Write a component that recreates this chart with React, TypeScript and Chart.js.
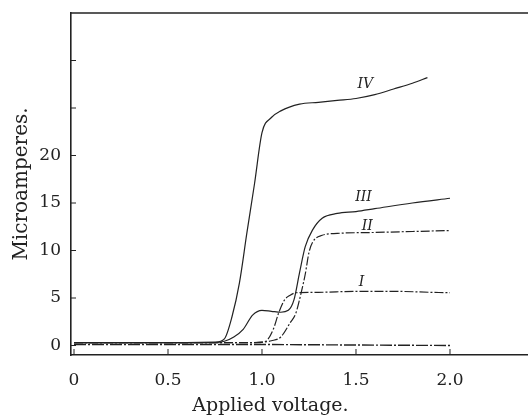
import React, { useEffect, useRef } from "react";
import { Chart, registerables } from "chart.js";

Chart.register(...registerables);

// Applied voltage (x) and microamperes (y) for each curve
const curveIVVolts = [0, 0.3, 0.6, 0.75, 0.8, 0.84, 0.88, 0.92, 0.96, 1.0, 1.05, 1.1, 1.2, 1.3, 1.4, 1.5, 1.6, 1.7, 1.8, 1.88];
const curveIVAmps = [0.3, 0.3, 0.3, 0.35, 0.7, 3.0, 6.6, 11.9, 17.0, 22.4, 24.0, 24.7, 25.4, 25.6, 25.8, 26.0, 26.4, 27.0, 27.6, 28.2];

const curveIIIVolts = [0, 0.4, 0.75, 0.8, 0.85, 0.9, 0.95, 1.0, 1.05, 1.1, 1.14, 1.17, 1.2, 1.23, 1.27, 1.32, 1.4, 1.5, 1.6, 1.8, 2.0];
const curveIIIAmps = [0.3, 0.3, 0.3, 0.45, 0.9, 1.7, 3.2, 3.7, 3.6, 3.5, 3.7, 4.8, 7.7, 10.4, 12.2, 13.4, 13.9, 14.1, 14.4, 15.0, 15.5];

const curveIIVolts = [0, 0.5, 0.95, 1.0, 1.05, 1.1, 1.15, 1.18, 1.21, 1.23, 1.25, 1.27, 1.32, 1.4, 1.6, 1.8, 2.0];
const curveIIAmps = [0.3, 0.3, 0.3, 0.35, 0.5, 0.9, 2.4, 3.4, 5.7, 7.5, 9.8, 10.9, 11.6, 11.8, 11.9, 12.0, 12.1];

const curveIVolts = [0, 0.5, 0.97, 1.02, 1.06, 1.09, 1.12, 1.15, 1.18, 1.3, 1.5, 1.7, 1.9, 2.0];
const curveIAmps = [0.3, 0.3, 0.3, 0.45, 1.7, 3.5, 4.8, 5.3, 5.55, 5.6, 5.7, 5.7, 5.6, 5.55];

const baseVolts = [0, 0.5, 1.0, 1.5, 2.0];
const baseAmps = [0.1, 0.1, 0.1, 0.05, 0.0];

const xTickValues = [0, 0.5, 1.0, 1.5, 2.0];
const yTickValues = [0, 5, 10, 15, 20, 25, 30];
const yLabelledMax = 20;

const curveNames = ["IV", "III", "II", "I"];
const curveNameVolts = [1.55, 1.54, 1.56, 1.53];
const curveNameAmps = [27.5, 15.6, 12.5, 6.6];

const xTitleText = "Applied voltage.";
const xTitleCentreVolts = 1.045;

const INK = "#222222";
const FONT = '"DejaVu Serif", "Liberation Serif", serif';

function toPoints(xs: number[], ys: number[]) {
  return xs.map((x, i) => ({ x, y: ys[i] }));
}

const framePlugin = {
  id: "frameAndNames",
  afterDraw(chart: any) {
    const { ctx, chartArea, scales, height } = chart;
    const xs = scales.x;
    const ys = scales.y;
    ctx.save();
    ctx.strokeStyle = INK;
    ctx.lineWidth = 1;
    ctx.beginPath();
    xTickValues.forEach((v) => {
      const px = xs.getPixelForValue(v);
      ctx.moveTo(px, chartArea.bottom);
      ctx.lineTo(px, chartArea.bottom - 6);
    });
    yTickValues.forEach((v) => {
      const py = ys.getPixelForValue(v);
      ctx.moveTo(chartArea.left, py);
      ctx.lineTo(chartArea.left + 5, py);
    });
    ctx.stroke();
    ctx.lineWidth = 1.6;
    ctx.beginPath();
    ctx.moveTo(chartArea.left, chartArea.top);
    ctx.lineTo(chartArea.right, chartArea.top);
    ctx.stroke();
    ctx.fillStyle = INK;
    ctx.font = `italic 14px ${FONT}`;
    ctx.textAlign = "center";
    ctx.textBaseline = "middle";
    curveNames.forEach((name, i) => {
      ctx.fillText(name, xs.getPixelForValue(curveNameVolts[i]), ys.getPixelForValue(curveNameAmps[i]));
    });
    ctx.font = `19px ${FONT}`;
    ctx.textBaseline = "alphabetic";
    ctx.fillText(xTitleText, xs.getPixelForValue(xTitleCentreVolts), height - 6);
    ctx.restore();
  },
};

export default function App() {
  const canvasRef = useRef<HTMLCanvasElement | null>(null);

  useEffect(() => {
    document.body.style.margin = "0";
    const canvas = canvasRef.current;
    if (!canvas) return;

    const lineStyle = (dash: number[], width = 1.2) => ({
      borderColor: INK,
      borderWidth: width,
      borderDash: dash,
      pointRadius: 0,
      fill: false,
      cubicInterpolationMode: "monotone" as const,
    });

    const chart = new Chart(canvas, {
      type: "line",
      data: {
        datasets: [
          { label: "IV", data: toPoints(curveIVVolts, curveIVAmps), ...lineStyle([]) },
          { label: "III", data: toPoints(curveIIIVolts, curveIIIAmps), ...lineStyle([]) },
          { label: "II", data: toPoints(curveIIVolts, curveIIAmps), ...lineStyle([9, 2, 2, 2]) },
          { label: "I", data: toPoints(curveIVolts, curveIAmps), ...lineStyle([9, 2, 2, 2]) },
          { label: "base", data: toPoints(baseVolts, baseAmps), ...lineStyle([12, 2, 2, 2], 1.4) },
        ],
      },
      plugins: [framePlugin],
      options: {
        animation: false,
        responsive: false,
        devicePixelRatio: 1,
        layout: { padding: { top: 13, right: 0, left: 0, bottom: 0 } },
        plugins: { legend: { display: false }, tooltip: { enabled: false } },
        scales: {
          x: {
            type: "linear",
            min: -0.016,
            max: 2.415,
            afterBuildTicks: (s: any) => {
              s.ticks = xTickValues.map((value) => ({ value }));
            },
            afterFit: (s: any) => {
              s.height = 62;
              s.paddingLeft = 0;
              s.paddingRight = 0;
            },
            ticks: {
              autoSkip: false,
              maxRotation: 0,
              padding: 15,
              color: INK,
              font: { family: FONT, size: 17 },
              callback: (v: any) => (Number(v) === 0 ? "0" : Number(v).toFixed(1)),
            },
            grid: { display: false, drawTicks: false },
            border: { display: true, color: INK, width: 1.6 },
            title: { display: false },
          },
          y: {
            type: "linear",
            min: -1.0,
            max: 35.0,
            afterBuildTicks: (s: any) => {
              s.ticks = yTickValues.map((value) => ({ value }));
            },
            afterFit: (s: any) => {
              s.width = 71;
              s.paddingTop = 0;
              s.paddingBottom = 0;
            },
            ticks: {
              autoSkip: false,
              padding: 10,
              color: INK,
              font: { family: FONT, size: 17 },
              callback: (v: any) => (Number(v) <= yLabelledMax ? String(v) : ""),
            },
            grid: { display: false, drawTicks: false },
            border: { display: true, color: INK, width: 1.6 },
            title: {
              display: true,
              text: "Microamperes.",
              color: INK,
              font: { family: FONT, size: 20 },
              padding: { top: 10, bottom: 0 },
            },
          },
        },
      },
    });

    return () => chart.destroy();
  }, []);

  return (
    <div style={{ width: 528, height: 417, background: "#ffffff" }}>
      <canvas ref={canvasRef} width={528} height={417} style={{ display: "block", width: 528, height: 417 }} />
    </div>
  );
}
